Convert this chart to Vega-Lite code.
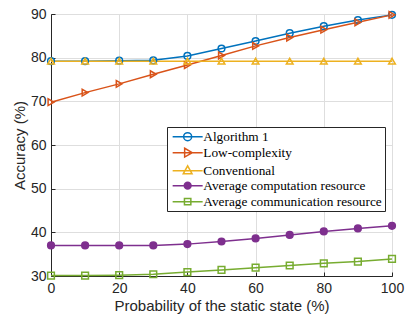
{
  "$schema": "https://vega.github.io/schema/vega-lite/v6.json",
  "width": 341,
  "height": 262,
  "autosize": "none",
  "padding": {"left": 51, "top": 14, "right": 19, "bottom": 42},
  "background": "white",
  "config": {
    "view": {"stroke": "#262626", "strokeWidth": 1},
    "axis": {
      "labelFont": "Liberation Sans",
      "titleFont": "Liberation Sans",
      "labelFontSize": 14,
      "titleFontSize": 15,
      "titleFontWeight": "normal",
      "labelColor": "#262626",
      "titleColor": "#262626",
      "domainColor": "#262626",
      "tickColor": "#262626",
      "gridColor": "#dedede",
      "tickSize": -4,
      "labelPadding": 9,
      "labelFlush": false
    },
    "legend": {
      "orient": "none",
      "legendX": 116,
      "legendY": 113,
      "strokeColor": "#262626",
      "fillColor": "white",
      "padding": 3,
      "rowPadding": 1,
      "labelFont": "Liberation Serif",
      "labelFontSize": 13.3,
      "labelColor": "#000000",
      "labelOffset": 20,
      "labelLimit": 300
    }
  },
  "data": {
    "values": [
      {"p": 0, "series": "Algorithm 1", "v": 79.2},
      {"p": 10, "series": "Algorithm 1", "v": 79.2},
      {"p": 20, "series": "Algorithm 1", "v": 79.3},
      {"p": 30, "series": "Algorithm 1", "v": 79.4},
      {"p": 40, "series": "Algorithm 1", "v": 80.4},
      {"p": 50, "series": "Algorithm 1", "v": 82.1},
      {"p": 60, "series": "Algorithm 1", "v": 83.8},
      {"p": 70, "series": "Algorithm 1", "v": 85.6},
      {"p": 80, "series": "Algorithm 1", "v": 87.2},
      {"p": 90, "series": "Algorithm 1", "v": 88.6},
      {"p": 100, "series": "Algorithm 1", "v": 89.8},
      {"p": 0, "series": "Low-complexity", "v": 69.8},
      {"p": 10, "series": "Low-complexity", "v": 72.0},
      {"p": 20, "series": "Low-complexity", "v": 74.0},
      {"p": 30, "series": "Low-complexity", "v": 76.2},
      {"p": 40, "series": "Low-complexity", "v": 78.3},
      {"p": 50, "series": "Low-complexity", "v": 80.5},
      {"p": 60, "series": "Low-complexity", "v": 82.7},
      {"p": 70, "series": "Low-complexity", "v": 84.6},
      {"p": 80, "series": "Low-complexity", "v": 86.4},
      {"p": 90, "series": "Low-complexity", "v": 88.1},
      {"p": 100, "series": "Low-complexity", "v": 89.8},
      {"p": 0, "series": "Conventional", "v": 79.2},
      {"p": 10, "series": "Conventional", "v": 79.2},
      {"p": 20, "series": "Conventional", "v": 79.2},
      {"p": 30, "series": "Conventional", "v": 79.2},
      {"p": 40, "series": "Conventional", "v": 79.2},
      {"p": 50, "series": "Conventional", "v": 79.2},
      {"p": 60, "series": "Conventional", "v": 79.2},
      {"p": 70, "series": "Conventional", "v": 79.2},
      {"p": 80, "series": "Conventional", "v": 79.2},
      {"p": 90, "series": "Conventional", "v": 79.2},
      {"p": 100, "series": "Conventional", "v": 79.2},
      {"p": 0, "series": "Average computation resource", "v": 37.0},
      {"p": 10, "series": "Average computation resource", "v": 37.0},
      {"p": 20, "series": "Average computation resource", "v": 37.0},
      {"p": 30, "series": "Average computation resource", "v": 37.0},
      {"p": 40, "series": "Average computation resource", "v": 37.3},
      {"p": 50, "series": "Average computation resource", "v": 37.9},
      {"p": 60, "series": "Average computation resource", "v": 38.6},
      {"p": 70, "series": "Average computation resource", "v": 39.4},
      {"p": 80, "series": "Average computation resource", "v": 40.2},
      {"p": 90, "series": "Average computation resource", "v": 40.9},
      {"p": 100, "series": "Average computation resource", "v": 41.5},
      {"p": 0, "series": "Average communication resource", "v": 30.1},
      {"p": 10, "series": "Average communication resource", "v": 30.1},
      {"p": 20, "series": "Average communication resource", "v": 30.2},
      {"p": 30, "series": "Average communication resource", "v": 30.4},
      {"p": 40, "series": "Average communication resource", "v": 30.9},
      {"p": 50, "series": "Average communication resource", "v": 31.4},
      {"p": 60, "series": "Average communication resource", "v": 31.9},
      {"p": 70, "series": "Average communication resource", "v": 32.4},
      {"p": 80, "series": "Average communication resource", "v": 32.9},
      {"p": 90, "series": "Average communication resource", "v": 33.3},
      {"p": 100, "series": "Average communication resource", "v": 33.9}
    ]
  },
  "encoding": {
    "x": {
      "field": "p", "type": "quantitative",
      "scale": {"domain": [0, 100], "nice": false},
      "axis": {"values": [0, 20, 40, 60, 80, 100], "title": "Probability of the static state (%)", "titlePadding": 3}
    },
    "y": {
      "field": "v", "type": "quantitative",
      "scale": {"domain": [30, 90], "nice": false, "zero": false},
      "axis": {"values": [30, 40, 50, 60, 70, 80, 90], "title": "Accuracy (%)", "titlePadding": 3}
    }
  },
  "resolve": {
    "scale": {"stroke": "independent", "fill": "independent", "shape": "independent"},
    "legend": {"stroke": "independent", "fill": "independent", "shape": "independent"}
  },
  "layer": [
    {
      "mark": {"type": "line", "strokeWidth": 1.5, "clip": false},
      "encoding": {
        "stroke": {
          "field": "series", "type": "nominal",
          "scale": {
            "domain": ["Algorithm 1", "Low-complexity", "Conventional", "Average computation resource", "Average communication resource"],
            "range": ["#0072BD", "#D95319", "#EDB120", "#7E2F8E", "#77AC30"]
          },
          "legend": null
        },
        "detail": {"field": "series"}
      }
    },
    {
      "mark": {"type": "point", "strokeWidth": 1.5, "size": 45, "opacity": 1, "clip": false},
      "encoding": {
        "stroke": {
          "field": "series", "type": "nominal",
          "scale": {
            "domain": ["Algorithm 1", "Low-complexity", "Conventional", "Average computation resource", "Average communication resource"],
            "range": ["#0072BD", "#D95319", "#EDB120", "#7E2F8E", "#77AC30"]
          },
          "legend": null
        },
        "fill": {
          "field": "series", "type": "nominal",
          "scale": {
            "domain": ["Algorithm 1", "Low-complexity", "Conventional", "Average computation resource", "Average communication resource"],
            "range": ["transparent", "transparent", "transparent", "#7E2F8E", "transparent"]
          },
          "legend": null
        },
        "shape": {
          "field": "series", "type": "nominal",
          "scale": {
            "domain": ["Algorithm 1", "Low-complexity", "Conventional", "Average computation resource", "Average communication resource"],
            "range": ["circle", "triangle-right", "triangle-up", "circle", "square"]
          },
          "legend": null
        }
      }
    },
    {
      "mark": {"type": "point", "strokeWidth": 1.5, "size": 64, "opacity": 0, "clip": false},
      "encoding": {
        "stroke": {
          "field": "series", "type": "nominal",
          "scale": {
            "domain": ["Algorithm 1", "Low-complexity", "Conventional", "Average computation resource", "Average communication resource"],
            "range": ["#0072BD", "#D95319", "#EDB120", "#7E2F8E", "#77AC30"]
          },
          "legend": {"title": null, "symbolOpacity": 1, "symbolStrokeWidth": 1.5, "symbolSize": 64, "labelFont": "Liberation Serif", "labelFontSize": 13.3}
        },
        "fill": {
          "field": "series", "type": "nominal",
          "scale": {
            "domain": ["Algorithm 1", "Low-complexity", "Conventional", "Average computation resource", "Average communication resource"],
            "range": ["transparent", "transparent", "transparent", "#7E2F8E", "transparent"]
          },
          "legend": {"title": null, "symbolOpacity": 1, "symbolStrokeWidth": 1.5, "symbolSize": 64, "labelFont": "Liberation Serif", "labelFontSize": 13.3}
        },
        "shape": {
          "field": "series", "type": "nominal",
          "scale": {
            "domain": ["Algorithm 1", "Low-complexity", "Conventional", "Average computation resource", "Average communication resource"],
            "range": [
              "M-1,0H6.5M1.75,0A1,1 0 1,0 3.75,0A1,1 0 1,0 1.75,0",
              "M-1,0H6.5M2,-1.1L3.9,0L2,1.1Z",
              "M-1,0H6.5M2.75,-1.2L3.85,0.8L1.65,0.8Z",
              "M-1,0H6.5M1.9,0A0.85,0.85 0 1,0 3.6,0A0.85,0.85 0 1,0 1.9,0",
              "M-1,0H6.5M1.95,-0.8H3.55V0.8H1.95Z"
            ]
          },
          "legend": {"title": null, "symbolOpacity": 1, "symbolStrokeWidth": 1.5, "symbolSize": 64, "labelFont": "Liberation Serif", "labelFontSize": 13.3}
        }
      }
    }
  ]
}
